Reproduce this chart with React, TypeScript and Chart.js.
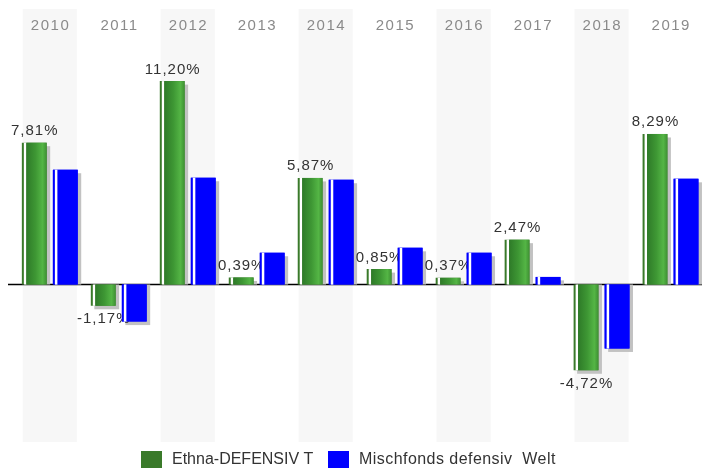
import React, { useEffect, useRef } from "react";
import { Chart, registerables } from "chart.js";

Chart.register(...registerables);

const years = ["2010", "2011", "2012", "2013", "2014", "2015", "2016", "2017", "2018", "2019"];
const ethnaValues = [7.81, -1.17, 11.2, 0.39, 5.87, 0.85, 0.37, 2.47, -4.72, 8.29];
const mischValues = [6.32, -2.04, 5.88, 1.75, 5.77, 2.02, 1.75, 0.42, -3.52, 5.82];
const seriesNames = ["Ethna-DEFENSIV T", "Mischfonds defensiv  Welt"];
const seriesColors = ["#3a7a2a", "#0000ff"];

const FONT = '"Liberation Sans", Arial, sans-serif';

const fmt = (v: number) => v.toFixed(2).replace(".", ",") + "%";

function barBox(el: any) {
  const p = el.getProps(["x", "y", "base", "width"], true);
  const left = p.x - p.width / 2;
  const right = p.x + p.width / 2;
  const top = Math.min(p.y, p.base);
  const bottom = Math.max(p.y, p.base);
  return { ...p, left, right, top, bottom, h: bottom - top };
}

function overlay(ctx: any, el: any, idx: number) {
  const b = barBox(el);
  ctx.fillStyle = "#ffffff";
  ctx.fillRect(b.left + 2, b.top, 2.5, b.h);
  if (idx === 0) {
    const g = ctx.createLinearGradient(b.left + 4.5, 0, b.right, 0);
    g.addColorStop(0, "#2e7a28");
    g.addColorStop(0.45, "#3e9734");
    g.addColorStop(0.8, "#54b545");
    g.addColorStop(1, "#3e9033");
    ctx.fillStyle = g;
    ctx.fillRect(b.left + 4.5, b.top, b.right - b.left - 4.5, b.h);
  }
}

const decoPlugin = {
  id: "deco",
  beforeDatasetsDraw(chart: any) {
    const { ctx, chartArea, scales } = chart;
    const xs = scales.x;
    const ys = scales.y;
    const cat = (chartArea.right - chartArea.left) / years.length;
    ctx.save();
    ctx.fillStyle = "#f7f7f7";
    years.forEach((_, i) => {
      if (i % 2 === 0) {
        const cx = xs.getPixelForValue(i);
        const bw = cat * 0.785;
        ctx.fillRect(cx - bw / 2, chartArea.top, bw, chartArea.bottom - chartArea.top);
      }
    });
    ctx.fillStyle = "#8a8a8a";
    ctx.font = "15px " + FONT;
    ctx.textAlign = "center";
    ctx.textBaseline = "middle";
    (ctx as any).letterSpacing = "1.5px";
    years.forEach((y, i) => {
      const cx = xs.getPixelForValue(i);
      ctx.fillText(y, cx + 0.75, chartArea.top + 17);
    });
    (ctx as any).letterSpacing = "0px";
    const zy = ys.getPixelForValue(0);
    ctx.strokeStyle = "#000000";
    ctx.lineWidth = 1.5;
    ctx.beginPath();
    ctx.moveTo(8, zy);
    ctx.lineTo(702, zy);
    ctx.stroke();
    ctx.restore();
  },
  beforeDatasetDraw(chart: any, args: any) {
    const { ctx } = chart;
    ctx.save();
    ctx.fillStyle = "#c2c2c2";
    args.meta.data.forEach((el: any) => {
      const b = barBox(el);
      const d = 3.5;
      if (b.y <= b.base) {
        ctx.fillRect(b.left + d, b.top + d, b.width, b.h - d);
      } else {
        ctx.fillRect(b.left + d, b.top, b.width, b.h + d);
      }
    });
    ctx.restore();
  },
  afterDatasetDraw(chart: any, args: any) {
    const { ctx } = chart;
    ctx.save();
    args.meta.data.forEach((el: any) => overlay(ctx, el, args.index));
    ctx.restore();
  },
  afterDatasetsDraw(chart: any) {
    const { ctx } = chart;
    const greenMeta = chart.getDatasetMeta(0);
    const blueMeta = chart.getDatasetMeta(1);
    ctx.save();
    ctx.fillStyle = "#333333";
    ctx.font = "15px " + FONT;
    ctx.textAlign = "center";
    (ctx as any).letterSpacing = "1px";
    greenMeta.data.forEach((el: any, i: number) => {
      const p = el.getProps(["x", "y", "base"], true);
      const v = ethnaValues[i];
      const txt = fmt(v);
      if (v >= 0) {
        ctx.textBaseline = "alphabetic";
        ctx.fillText(txt, p.x + 0.5, p.y - 7.5);
      } else {
        ctx.textBaseline = "top";
        ctx.fillText(txt, p.x + 0.5, p.y + 6);
      }
    });
    (ctx as any).letterSpacing = "0px";
    ctx.restore();
    // blue bars are drawn over the labels
    ctx.save();
    blueMeta.data.forEach((el: any) => {
      el.draw(ctx);
      overlay(ctx, el, 1);
    });
    ctx.restore();
  },
  afterDraw(chart: any) {
    const { ctx } = chart;
    ctx.save();
    ctx.font = "16px " + FONT;
    ctx.textAlign = "left";
    ctx.textBaseline = "middle";
    const items = [
      { x: 141, label: seriesNames[0], color: seriesColors[0], ls: "0px" },
      { x: 328, label: seriesNames[1], color: seriesColors[1], ls: "0.45px" },
    ];
    items.forEach((it) => {
      ctx.fillStyle = it.color;
      ctx.fillRect(it.x, 451, 21, 17);
      ctx.fillStyle = "#333333";
      (ctx as any).letterSpacing = it.ls;
      ctx.fillText(it.label, it.x + 31, 460);
    });
    (ctx as any).letterSpacing = "0px";
    ctx.restore();
  },
};

export default function App() {
  const ref = useRef<HTMLCanvasElement | null>(null);
  useEffect(() => {
    if (!ref.current) return;
    const chart = new Chart(ref.current, {
      type: "bar",
      data: {
        labels: years,
        datasets: [
          {
            label: seriesNames[0],
            data: ethnaValues,
            backgroundColor: seriesColors[0],
            borderWidth: 0,
            categoryPercentage: 0.9,
            barPercentage: 0.8,
          },
          {
            label: seriesNames[1],
            data: mischValues,
            backgroundColor: seriesColors[1],
            borderWidth: 0,
            categoryPercentage: 0.9,
            barPercentage: 0.8,
          },
        ],
      },
      options: {
        animation: false,
        responsive: false,
        devicePixelRatio: 1,
        layout: { padding: { left: 15.3, right: 0, top: 9, bottom: 26 } },
        plugins: { legend: { display: false }, tooltip: { enabled: false } },
        scales: {
          x: { display: false, offset: true, grid: { display: false } },
          y: { display: false, min: -8.67, max: 15.17, grid: { display: false } },
        },
      },
      plugins: [decoPlugin],
    });
    return () => chart.destroy();
  }, []);
  return (
    <div
      style={{
        position: "absolute",
        left: 0,
        top: 0,
        width: 702,
        height: 468,
        overflow: "hidden",
        background: "#ffffff",
      }}
    >
      <canvas ref={ref} width={705} height={468} style={{ display: "block", width: 705, height: 468 }} />
    </div>
  );
}
